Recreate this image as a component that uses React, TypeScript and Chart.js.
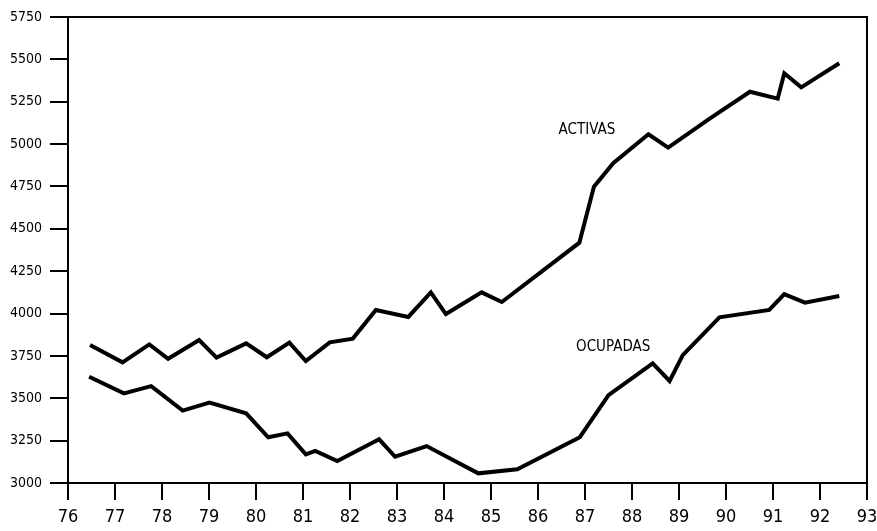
import React, { useEffect, useRef } from "react";
import { Chart, registerables } from "chart.js";

Chart.register(...registerables);

const xTicks = [76, 77, 78, 79, 80, 81, 82, 83, 84, 85, 86, 87, 88, 89, 90, 91, 92, 93];
const yTicks = [3000, 3250, 3500, 3750, 4000, 4250, 4500, 4750, 5000, 5250, 5500, 5750];

const activasYears = [76.47, 77.16, 77.73, 78.13, 78.79, 79.16, 79.79, 80.23, 80.71, 81.06, 81.57, 82.06, 82.55, 83.24, 83.72, 84.04, 84.8, 85.23, 86.88, 87.19, 87.6, 88.35, 88.77, 89.66, 90.51, 91.1, 91.24, 91.6, 92.41];
const activasValues = [3814, 3712, 3818, 3733, 3844, 3740, 3824, 3742, 3828, 3720, 3830, 3852, 4021, 3980, 4125, 3997, 4125, 4068, 4418, 4749, 4887, 5058, 4979, 5152, 5309, 5268, 5418, 5335, 5477];

const ocupadasYears = [76.45, 77.19, 77.77, 78.44, 79.01, 79.79, 80.26, 80.67, 81.06, 81.26, 81.73, 82.62, 82.96, 83.63, 84.73, 85.56, 86.89, 87.5, 88.44, 88.8, 89.08, 89.86, 90.92, 91.24, 91.68, 92.41];
const ocupadasValues = [3627, 3529, 3572, 3427, 3474, 3411, 3270, 3293, 3169, 3189, 3130, 3258, 3155, 3218, 3057, 3081, 3270, 3519, 3706, 3602, 3755, 3978, 4021, 4115, 4064, 4104];

const seriesLabels = ["ACTIVAS", "OCUPADAS"];
const labelAnchorYears = [87.04, 87.6];
const labelAnchorValues = [5083, 3803];

const FONT = '"DejaVu Sans Condensed", "Liberation Sans", sans-serif';

const framePlugin = {
  id: "frameAndLabels",
  afterDraw(chart: any) {
    const { ctx, chartArea, scales } = chart;
    ctx.save();
    ctx.strokeStyle = "#000";
    ctx.lineWidth = 2;
    ctx.beginPath();
    ctx.moveTo(chartArea.left, chartArea.top);
    ctx.lineTo(chartArea.right, chartArea.top);
    ctx.lineTo(chartArea.right, chartArea.bottom);
    ctx.stroke();
    ctx.fillStyle = "#000";
    ctx.font = `15px ${FONT}`;
    ctx.textAlign = "center";
    ctx.textBaseline = "middle";
    seriesLabels.forEach((t, i) => {
      const x = scales.x.getPixelForValue(labelAnchorYears[i]);
      const y = scales.y.getPixelForValue(labelAnchorValues[i]);
      ctx.fillText(t, x, y);
    });
    ctx.restore();
  },
};

export default function App() {
  const ref = useRef<HTMLCanvasElement | null>(null);
  useEffect(() => {
    document.body.style.margin = "0";
    const canvas = ref.current;
    if (!canvas) return;
    const chart = new Chart(canvas, {
      type: "line",
      data: {
        datasets: [
          {
            label: seriesLabels[0],
            data: activasYears.map((x, i) => ({ x, y: activasValues[i] })),
            borderColor: "#000",
            borderWidth: 4,
            pointRadius: 0,
            tension: 0,
            borderJoinStyle: "miter",
          },
          {
            label: seriesLabels[1],
            data: ocupadasYears.map((x, i) => ({ x, y: ocupadasValues[i] })),
            borderColor: "#000",
            borderWidth: 4,
            pointRadius: 0,
            tension: 0,
            borderJoinStyle: "miter",
          },
        ],
      },
      options: {
        animation: false,
        responsive: false,
        maintainAspectRatio: false,
        layout: { padding: { top: 17, right: 10, left: 0, bottom: 0 } },
        plugins: { legend: { display: false }, tooltip: { enabled: false } },
        scales: {
          x: {
            type: "linear",
            min: 76,
            max: 93,
            afterBuildTicks: (s: any) => {
              s.ticks = xTicks.map((v) => ({ value: v }));
            },
            afterFit: (s: any) => {
              s.height = 48;
              s.paddingLeft = 0;
              s.paddingRight = 0;
            },
            ticks: {
              color: "#000",
              font: { family: FONT, size: 18 },
              padding: 7,
              maxRotation: 0,
              autoSkip: false,
              callback: (v: any) => String(v),
            },
            grid: {
              drawOnChartArea: false,
              drawTicks: true,
              tickLength: 17,
              color: "#000",
              lineWidth: 2,
            },
            border: { display: true, color: "#000", width: 2 },
          },
          y: {
            type: "linear",
            min: 3000,
            max: 5750,
            afterBuildTicks: (s: any) => {
              s.ticks = yTicks.map((v) => ({ value: v }));
            },
            afterFit: (s: any) => {
              s.width = 68;
              s.paddingTop = 0;
              s.paddingBottom = 0;
            },
            ticks: {
              color: "#000",
              font: { family: FONT, size: 14 },
              padding: 8,
              autoSkip: false,
              callback: (v: any) => String(v),
            },
            grid: {
              drawOnChartArea: false,
              drawTicks: true,
              tickLength: 18,
              color: "#000",
              lineWidth: 2,
            },
            border: { display: true, color: "#000", width: 2 },
          },
        },
      },
      plugins: [framePlugin],
    });
    return () => chart.destroy();
  }, []);
  return (
    <div style={{ width: 877, height: 531, background: "#fff" }}>
      <canvas ref={ref} width={877} height={531} style={{ display: "block" }} />
    </div>
  );
}
